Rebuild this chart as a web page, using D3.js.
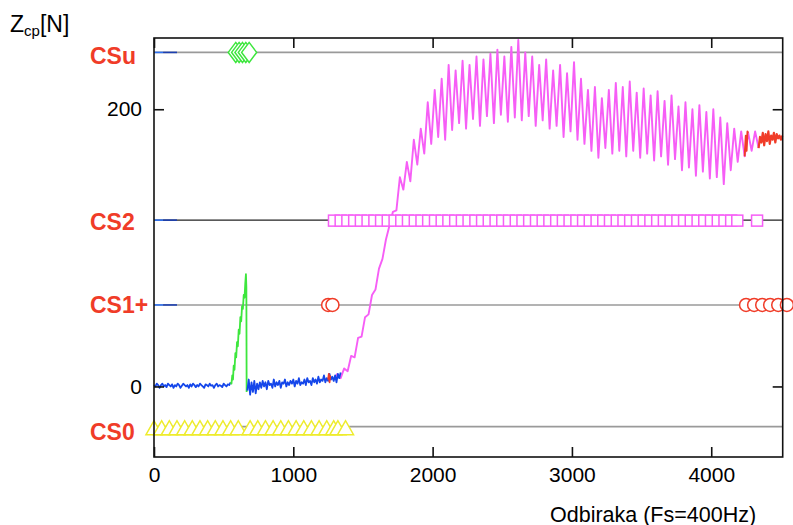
<!DOCTYPE html>
<html>
<head>
<meta charset="utf-8">
<script src="https://cdn.jsdelivr.net/npm/d3@7"></script>
<style>
  body { margin: 0; background: #fff; }
  svg { display: block; font-family: "Liberation Sans", Arial, sans-serif; }
</style>
</head>
<body>
<div id="chart"></div>
<script>
// axis ticks
const xTicks = [0, 1000, 2000, 3000, 4000];
const yTicks = [0, 200];

// state levels drawn as horizontal reference lines
const levelNames = ["CSu", "CS2", "CS1+", "CS0"];
const levelValues = [241, 120, 58.8, -29];
const labelValues = [238.6, 118.8, 58.8, -32.6];

// Zcp signal, 400 Hz samples
// blue part, samples 0..550 every 10
const blueA = [1, 0, 2, 1, -1, 1, 2, 0, 1, -0.5, 2, 1, 0, 1.5, -1, 1, 0, 2, 1, -1,
  0.5, 2, 1, 0, 1, -1, 1.5, 0, 2, 1, -0.5, 1, 0, 2, 1, 0, -1, 1.5, 1, 0,
  2, 0.5, 1, -1, 1, 2, 0, 1, 0.5, -0.5, 2, 1, 0, 1.5, 1, 3];
// green part (sample, value)
const greenPts = [[550, 3], [556, 2], [562, 8], [567, 5], [572, 15], [578, 12], [584, 24], [590, 21],
  [596, 32], [602, 29], [608, 41], [614, 38], [620, 50], [626, 47], [632, 58], [638, 56],
  [644, 66], [650, 64], [655, 74], [660, 81], [663, 72], [665, -4]];
// blue part, samples 670..1340 every 10
const blueB = [-3, 5, -6, 3, -4, 4, -5, 2, -2, 3,
  -1, 4, 0, 3, -2, 4, 1, 2, -1, 5,
  0, 3, 1, 4, -1, 3, 2, 5, 0, 3,
  1, 4, 2, 5, 0, 4, 2, 6, 1, 3,
  2, 5, 1, 6, 3, 4, 1, 6, 3, 5,
  2, 7, 3, 5, 4, 8, 3, 6, 4, 9,
  5, 7, 4, 8, 3, 9, 6, 10];
// magenta part, samples 1290..4340 every 25
const pinkSig = [5, 9, 6, 13, 11, 22, 21, 35, 36, 50,
  52, 66, 70, 85, 92, 106, 116, 126, 127, 151,
  142, 162, 148, 178, 160, 186, 168, 205, 175, 214,
  180, 222, 178, 232, 185, 228, 190, 235, 186, 232,
  193, 238, 188, 236, 195, 240, 190, 243, 196, 238,
  191, 245, 194, 250, 192, 241, 195, 238, 188, 232,
  192, 236, 186, 228, 188, 232, 180, 226, 184, 234,
  178, 222, 175, 214, 170, 216, 165, 208, 172, 214,
  168, 219, 170, 216, 166, 220, 170, 212, 165, 215,
  168, 210, 163, 213, 166, 206, 160, 210, 164, 202,
  156, 205, 158, 200, 152, 203, 155, 198, 150, 200,
  151, 194, 146, 190, 156, 186, 162, 184, 166, 183,
  170, 184, 172];
// red parts (sample, value)
const redBlip = [[1250, 5], [1255, 9], [1260, 3], [1265, 8]];
const redMid = [[4240, 166], [4248, 181], [4254, 170], [4260, 184], [4265, 183]];
const redEnd = [[4340, 172], [4350, 180], [4360, 176], [4370, 183], [4380, 174], [4390, 182],
  [4400, 177], [4410, 184], [4420, 175], [4430, 181], [4440, 178], [4450, 183],
  [4460, 176], [4470, 182], [4480, 179], [4490, 181], [4500, 178], [4510, 181]];

// state markers (sample positions)
const cs0Marks = [0, 55, 110, 165, 220, 275, 330, 385, 440, 495, 550, 605,
  690, 745, 800, 855, 910, 965, 1020, 1075, 1130, 1185, 1240, 1290, 1320, 1375];
const csuMarks = [587, 611, 635, 659, 683];
const cs2Marks = [1292, 1340, 1388, 1437, 1485, 1533, 1582, 1630, 1678, 1727, 1775, 1823,
  1872, 1920, 1968, 2017, 2065, 2113, 2162, 2210, 2258, 2307, 2355, 2403, 2452, 2500,
  2548, 2597, 2645, 2693, 2742, 2790, 2838, 2887, 2935, 2983, 3032, 3080, 3128, 3177,
  3225, 3273, 3322, 3370, 3418, 3467, 3515, 3563, 3612, 3660, 3708, 3757, 3805, 3853,
  3902, 3950, 3998, 4047, 4095, 4143, 4187, 4329];
const cs1Marks = [1250, 1281, 4250, 4308, 4366, 4423, 4481, 4543];

const width = 793, height = 525;
const plot = { left: 154, right: 782.7, top: 38, bottom: 457 };

const blue = "#1446ea", green = "#3de63d", pink = "#f65ef6", red = "#f03c28", yellow = "#eeec2c";

const svg = d3.select("#chart").append("svg")
  .attr("width", width)
  .attr("height", height);

const x = d3.scaleLinear().domain([0, 4513]).range([plot.left, plot.right]);
const y = d3.scaleLinear().domain([-50.9, 251.4]).range([plot.bottom, plot.top]);

// reference lines for the states
const lineColors = ["#9a9a9a", "#222", "#9a9a9a", "#9a9a9a"];
levelValues.forEach((v, i) => {
  svg.append("line")
    .attr("x1", plot.left).attr("x2", plot.right)
    .attr("y1", y(v)).attr("y2", y(v))
    .attr("stroke", lineColors[i])
    .attr("stroke-width", i === 1 ? 1.2 : 1.6);
  // short blue stubs at the left
  if (i < 3) {
    svg.append("line")
      .attr("x1", x(0)).attr("x2", x(65)).attr("y1", y(v)).attr("y2", y(v))
      .attr("stroke", "#2f72f2").attr("stroke-width", 1.6);
    svg.append("line")
      .attr("x1", x(65)).attr("x2", x(165)).attr("y1", y(v)).attr("y2", y(v))
      .attr("stroke", "#1c3fb0").attr("stroke-width", 1.6);
  }
});

// state labels
levelNames.forEach((name, i) => {
  svg.append("text")
    .attr("x", 90)
    .attr("y", y(labelValues[i]) + 8.2)
    .attr("fill", red)
    .attr("font-weight", "bold")
    .attr("font-size", "23px")
    .text(name);
});

// signal
const line = d3.line().x(d => x(d[0])).y(d => y(d[1]));
const blueAPts = blueA.map((v, i) => [i * 10, v]);
const blueBPts = blueB.map((v, i) => [670 + i * 10, v]);
const pinkPts = pinkSig.map((v, i) => [1290 + i * 25, v]);

function trace(pts, color, w) {
  svg.append("path")
    .attr("d", line(pts))
    .attr("fill", "none")
    .attr("stroke", color)
    .attr("stroke-width", w)
    .attr("stroke-linejoin", "round");
}
trace(pinkPts, pink, 1.9);
trace(blueAPts, blue, 1.8);
trace(greenPts, green, 1.8);
trace(blueBPts, blue, 1.8);
trace(redBlip, red, 1.8);
trace(redMid, red, 1.9);
trace(redEnd, red, 2.2);

// markers
const mk = svg.append("g").attr("fill", "#fff").attr("stroke-width", 1.5);
const yCS0 = y(levelValues[3]), yCSu = y(levelValues[0]), yCS2 = y(levelValues[1]), yCS1 = y(levelValues[2]);

cs0Marks.forEach(s => {
  const cx = x(s);
  mk.append("path")
    .attr("d", `M${cx - 8},${yCS0 + 8}L${cx},${yCS0 - 6}L${cx + 8},${yCS0 + 8}Z`)
    .attr("stroke", yellow);
});
csuMarks.forEach(s => {
  const cx = x(s);
  mk.append("path")
    .attr("d", `M${cx - 7.5},${yCSu}L${cx},${yCSu - 10}L${cx + 7.5},${yCSu}L${cx},${yCSu + 10}Z`)
    .attr("stroke", green);
});
cs2Marks.forEach(s => {
  mk.append("rect")
    .attr("x", x(s) - 5.5).attr("y", yCS2 - 5)
    .attr("width", 11).attr("height", 11)
    .attr("stroke", pink);
});
cs1Marks.forEach(s => {
  mk.append("circle")
    .attr("cx", x(s)).attr("cy", yCS1)
    .attr("r", 6.5)
    .attr("stroke", red);
});

// frame and axes
svg.append("rect")
  .attr("x", plot.left).attr("y", plot.top)
  .attr("width", plot.right - plot.left).attr("height", plot.bottom - plot.top)
  .attr("fill", "none").attr("stroke", "#111").attr("stroke-width", 1.6);

function styleAxis(g) {
  g.select(".domain").remove();
  g.selectAll(".tick line").attr("stroke", "#111").attr("stroke-width", 1.6);
  g.selectAll("text").attr("font-family", "Liberation Sans, Arial, sans-serif")
    .attr("font-size", "21px").attr("fill", "#000");
}

svg.append("g").attr("transform", `translate(0,${plot.bottom})`)
  .call(d3.axisBottom(x).tickValues(xTicks).tickSize(-10).tickPadding(10).tickFormat(d3.format("d")))
  .call(styleAxis);
svg.append("g").attr("transform", `translate(0,${plot.top})`)
  .call(d3.axisTop(x).tickValues(xTicks).tickSize(-10).tickFormat(""))
  .call(styleAxis);
svg.append("g").attr("transform", `translate(${plot.left},0)`)
  .call(d3.axisLeft(y).tickValues(yTicks).tickSize(-10).tickPadding(12))
  .call(styleAxis);
svg.append("g").attr("transform", `translate(${plot.right},0)`)
  .call(d3.axisRight(y).tickValues(yTicks).tickSize(-10).tickFormat(""))
  .call(styleAxis);

// axis titles
const yTitle = svg.append("text").attr("x", 10).attr("y", 31.7).attr("font-size", "23px").attr("fill", "#000");
yTitle.append("tspan").text("Z");
yTitle.append("tspan").attr("font-size", "15px").attr("dy", 4).text("cp");
yTitle.append("tspan").attr("dy", -4).text("[N]");

svg.append("text")
  .attr("x", 550).attr("y", 521.5)
  .attr("font-size", "21.5px").attr("fill", "#000")
  .text("Odbiraka (Fs=400Hz)");
</script>
</body>
</html>
